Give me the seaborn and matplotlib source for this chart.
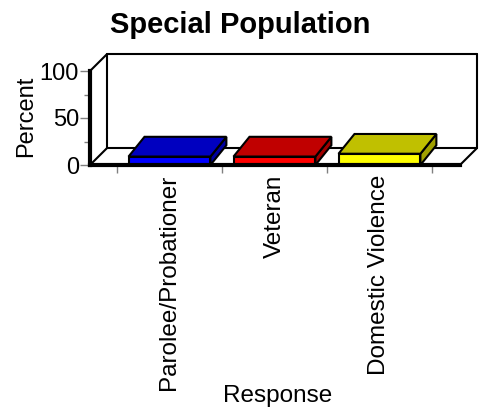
import matplotlib
matplotlib.use('Agg')
import numpy as np
import pandas as pd
import matplotlib.pyplot as plt
from matplotlib.patches import Polygon
import seaborn as sns

# datos
categorias = ['Parolee/Probationer', 'Veteran', 'Domestic Violence']
porcentajes = [9, 9, 12]
y_ticks = [0, 50, 100]

colores_frente = ['#0000FF', '#FF0000', '#FFFF00']
colores_arriba = ['#0000C0', '#C00000', '#C0C000']
colores_lado = ['#0000A0', '#A00000', '#A0A000']

# geometría del efecto 3D (en unidades de datos)
XMIN, XMAX = -0.757, 2.767
DX, DY = 0.162, 18.0      # profundidad de paredes / piso
BDX, BDY = 0.152, 21.0    # profundidad de las barras

sns.set_style('white')
plt.rcParams['font.family'] = ['Liberation Sans', 'DejaVu Sans']
plt.rcParams['text.color'] = 'black'
plt.rcParams['axes.labelcolor'] = 'black'
plt.rcParams['xtick.labelcolor'] = 'black'
plt.rcParams['ytick.labelcolor'] = 'black'

fig = plt.figure(figsize=(4.85, 4.09), dpi=100)
ax = fig.add_axes([90 / 485, 1 - 165 / 409, 370 / 485, 94 / 409])

df = pd.DataFrame({'Response': categorias, 'Percent': porcentajes})
sns.barplot(data=df, x='Response', y='Percent', hue='Response',
            palette=colores_frente, width=0.78, saturation=1,
            edgecolor='black', linewidth=1.5, legend=False, ax=ax, zorder=3)

ax.set_xlim(XMIN, XMAX)
ax.set_ylim(0, 100)

# caras superior y lateral de cada barra
barras = sorted(ax.patches, key=lambda p: p.get_x())
for p, ca, cl in zip(barras, colores_arriba, colores_lado):
    x0 = p.get_x()
    x1 = x0 + p.get_width()
    h = p.get_height()
    arriba = Polygon([(x0, h), (x1, h), (x1 + BDX, h + BDY), (x0 + BDX, h + BDY)],
                     closed=True, fc=ca, ec='black', lw=1.5, zorder=3, clip_on=False)
    lado = Polygon([(x1, 0), (x1, h), (x1 + BDX, h + BDY), (x1 + BDX, BDY)],
                   closed=True, fc=cl, ec='black', lw=1.5, zorder=3, clip_on=False)
    ax.add_patch(lado)
    ax.add_patch(arriba)

# paredes y piso
lineas = [
    ([XMIN, XMIN + DX], [0, DY]),
    ([XMIN, XMIN + DX], [100, 100 + DY]),
    ([XMIN + DX, XMAX + DX], [100 + DY, 100 + DY]),
    ([XMIN + DX, XMIN + DX], [DY, 100 + DY]),
    ([XMAX + DX, XMAX + DX], [DY, 100 + DY]),
    ([XMIN + DX, XMAX + DX], [DY, DY]),
    ([XMAX, XMAX + DX], [0, DY]),
]
for xs, ys in lineas:
    ax.plot(xs, ys, color='black', lw=1.5, clip_on=False, zorder=1,
            solid_capstyle='round')

for lado_spine in ['top', 'right']:
    ax.spines[lado_spine].set_visible(False)
for lado_spine in ['left', 'bottom']:
    ax.spines[lado_spine].set_linewidth(3)
    ax.spines[lado_spine].set_color('black')
    ax.spines[lado_spine].set_zorder(5)

# ticks
ax.set_xticks(range(len(categorias)))
ax.set_xticklabels(categorias, rotation=90, fontsize=17.5)
ax.set_xticks([i - 0.5 for i in range(len(categorias) + 1)], minor=True)
ax.tick_params(axis='x', which='major', bottom=True, length=0, pad=7)
ax.tick_params(axis='x', which='minor', bottom=True, length=6, width=1, color='gray')

ax.set_yticks(y_ticks)
ax.set_yticklabels([str(t) for t in y_ticks], fontsize=17)
ax.set_yticks([25, 75], minor=True)
ax.tick_params(axis='y', which='major', left=True, length=7, width=1, color='gray', pad=1)
ax.tick_params(axis='y', which='minor', left=True, length=4, width=1, color='gray')

ax.set_ylabel('Percent', fontsize=17)
ax.yaxis.set_label_coords(-0.173, 0.516)
ax.yaxis.label.set_va('center')

ax.set_xlabel('Response', fontsize=17.5)
ax.xaxis.set_label_coords(0.508, -2.52)
ax.xaxis.label.set_va('baseline')

ax.set_title('Special Population', fontsize=21, fontweight='bold',
             y=1.404, pad=0, va='baseline')
ax.title.set_x(0.405)

fig.savefig('out.png', dpi=100)
